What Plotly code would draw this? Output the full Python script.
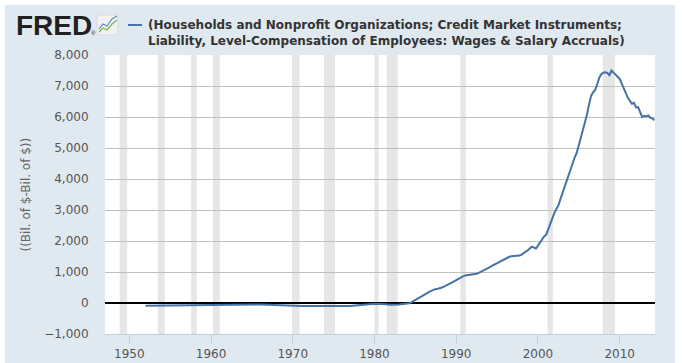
import plotly.graph_objects as go

# ---------------- data ----------------
years_early = [1952, 1953, 1954, 1955, 1956, 1957, 1958, 1959, 1960, 1961,
               1962, 1963, 1964, 1965, 1966, 1967, 1968, 1969, 1970, 1971,
               1972, 1973, 1974, 1975, 1976, 1977, 1978, 1979, 1980, 1981,
               1982, 1983]
values_early = [-90, -85, -80, -78, -75, -72, -70, -66, -62, -58,
                -55, -50, -45, -40, -45, -55, -70, -85, -95, -98,
                -100, -100, -102, -108, -112, -95, -75, -50, -25, -35,
                -55, -45]

# quarterly from 1984Q1 to 2014Q2
quarters_start = 1984.0
values_quarterly = [
    -30, -10, 20, 60,          # 1984
    110, 150, 190, 230,        # 1985
    270, 310, 340, 370,        # 1986
    400, 430, 450, 460,        # 1987
    470, 500, 530, 560,        # 1988
    590, 620, 660, 700,        # 1989
    740, 780, 820, 860,        # 1990
    880, 895, 905, 910,        # 1991
    905, 920, 945, 970,        # 1992
    1000, 1040, 1070, 1100,    # 1993
    1140, 1180, 1215, 1250,    # 1994
    1290, 1330, 1370, 1410,    # 1995
    1440, 1470, 1490, 1505,    # 1996
    1510, 1520, 1515, 1530,    # 1997
    1560, 1600, 1640, 1700,    # 1998
    1760, 1820, 1790, 1760,    # 1999
    1850, 1950, 2050, 2150,    # 2000
    2200, 2380, 2560, 2750,    # 2001
    2900, 3030, 3150, 3350,    # 2002
    3550, 3750, 3950, 4150,    # 2003
    4350, 4550, 4700, 4850,    # 2004
    5100, 5330, 5550, 5800,    # 2005
    6080, 6400, 6680, 6800,    # 2006
    6870, 7050, 7270, 7380,    # 2007
    7430, 7440, 7420, 7350,    # 2008
    7500, 7430, 7380, 7300,    # 2009
    7230, 7080, 6900, 6740,    # 2010
    6620, 6520, 6430, 6460,    # 2011
    6310, 6320, 6150, 6000,    # 2012
    6040, 6020, 6050, 5980,    # 2013
    5950, 5900,                # 2014
]
years_quarterly = [quarters_start + i * 0.25 for i in range(len(values_quarterly))]

years = years_early + years_quarterly
values = values_early + values_quarterly

recession_start = [1948.83, 1953.5, 1957.58, 1960.25, 1969.92, 1973.83,
                   1980.0, 1981.5, 1990.5, 2001.17, 2007.92]
recession_end = [1949.75, 1954.33, 1958.25, 1961.08, 1970.83, 1975.17,
                 1980.5, 1982.83, 1991.17, 2001.83, 2009.42]

x_ticks = [1950, 1960, 1970, 1980, 1990, 2000, 2010]
series_name = ("(Households and Nonprofit Organizations; Credit Market Instruments;<br>"
               "Liability, Level-Compensation of Employees: Wages & Salary Accruals)")
y_title = "((Bil. of $-Bil. of $))"

# ---------------- layout helpers (decoration only) ----------------
W, H = 682, 363
L, R, T, B = 105, 27, 55, 29
PW, PH = W - L - R, H - T - B


def px(x):
    return (x - L) / PW


def py(y):
    return (H - B - y) / PH


BG = "#E1E9F0"
LINE = "#4572A7"

fig = go.Figure()
fig.add_trace(go.Scatter(x=years, y=values, mode="lines",
                         line=dict(color=LINE, width=2),
                         name=series_name, showlegend=False,
                         hoverinfo="x+y"))

shapes = []
for s, e in zip(recession_start, recession_end):
    shapes.append(dict(type="rect", xref="x", yref="paper", x0=s, x1=e, y0=0, y1=1,
                       fillcolor="#E6E6E6", line=dict(width=0), layer="below"))

# legend dash
shapes.append(dict(type="line", xref="paper", yref="paper",
                   x0=px(128), x1=px(142), y0=py(25), y1=py(25),
                   line=dict(color=LINE, width=2)))

# FRED icon
shapes.append(dict(type="rect", xref="paper", yref="paper",
                   x0=px(97), x1=px(118), y0=py(35), y1=py(15),
                   fillcolor="#F0F2F2", line=dict(color="#D8DCDC", width=1)))


def path(pts):
    return "M " + " L ".join(f"{px(a):.5f},{py(b):.5f}" for a, b in pts)


shapes.append(dict(type="path", xref="paper", yref="paper",
                   path=path([(99, 32), (103, 28), (107, 30), (112, 24), (117, 20)]),
                   line=dict(color="#7DB544", width=1.2)))
shapes.append(dict(type="path", xref="paper", yref="paper",
                   path=path([(99, 29), (103, 24), (107, 26), (112, 19), (117, 16)]),
                   line=dict(color="#5A8CC8", width=1.2)))

# white outer border strips
for x0, x1, y0, y1 in [(0, 5, -10, H + 10), (-10, W + 10, -10, 5), (675, W + 10, -10, H + 10)]:
    shapes.append(dict(type="rect", xref="paper", yref="paper",
                       x0=px(x0), x1=px(x1), y0=py(y1), y1=py(y0),
                       fillcolor="white", line=dict(width=0), layer="above"))

annotations = [
    dict(text="<b>FRED</b>", xref="paper", yref="paper", x=px(14), y=py(25),
         xanchor="left", yanchor="middle", showarrow=False,
         font=dict(family="Liberation Sans", size=28, color="#231F20")),
    dict(text="®", xref="paper", yref="paper", x=px(89), y=py(33),
         xanchor="left", yanchor="middle", showarrow=False,
         font=dict(family="Liberation Sans", size=6, color="#231F20")),
    dict(text="<b>" + series_name + "</b>", xref="paper", yref="paper",
         x=px(146), y=py(32.5), xanchor="left", yanchor="middle", align="left",
         showarrow=False, font=dict(family="DejaVu Sans", size=12, color="#333333")),
    dict(text=y_title, xref="paper", yref="paper", x=px(25), y=0.5,
         xanchor="center", yanchor="middle", textangle=-90, showarrow=False,
         font=dict(family="DejaVu Sans", size=12, color="#666666")),
]

fig.update_layout(
    template="none",
    width=W, height=H, autosize=False,
    margin=dict(l=L, r=R, t=T, b=B, pad=0),
    paper_bgcolor=BG, plot_bgcolor="white",
    shapes=shapes, annotations=annotations,
    showlegend=False,
    xaxis=dict(range=[1947.03, 2014.32], tickvals=x_ticks, ticks="outside",
               ticklen=9, tickcolor="#C0D0E0", tickwidth=1, automargin=False,
               showline=True, linecolor="#C0D0E0", linewidth=1,
               showgrid=False, zeroline=False, fixedrange=True,
               tickfont=dict(family="DejaVu Sans", size=12, color="#555555")),
    yaxis=dict(range=[-1000, 8000], dtick=1000, tick0=0, tickformat=",",
               ticks="outside", ticklen=13, tickcolor="rgba(0,0,0,0)",
               automargin=False,
               showgrid=True, gridcolor="#C0C0C0", gridwidth=1,
               zeroline=True, zerolinecolor="black", zerolinewidth=2,
               showline=False, fixedrange=True,
               tickfont=dict(family="DejaVu Sans", size=12, color="#555555")),
)

fig.write_html("out.html", config={"displayModeBar": False},
               post_script="document.body.style.margin='0';document.body.style.overflow='hidden';")
